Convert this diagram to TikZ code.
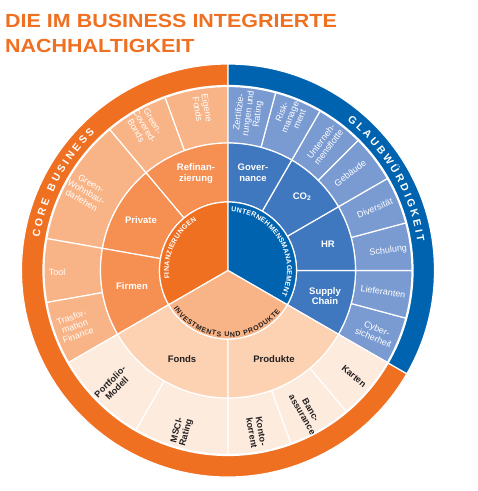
\documentclass[tikz,border=0pt]{standalone}
\usepackage{fontspec}
\setmainfont{Liberation Sans}
\usepackage{tikz}
\usepackage{xcolor}
\usetikzlibrary{decorations.text}

\definecolor{corange}{HTML}{F07022}
\definecolor{cblue}{HTML}{0063AF}
\definecolor{midorange}{HTML}{F58F52}
\definecolor{lightorange}{HTML}{F8B487}
\definecolor{paleorange}{HTML}{FCD2B2}
\definecolor{creamorange}{HTML}{FDEBDE}
\definecolor{midblue}{HTML}{3F78BE}
\definecolor{lightblue}{HTML}{7A9BD2}
\definecolor{darktext}{HTML}{231F20}

% ring piece: colour, from angle, to angle, inner r, outer r
\newcommand{\ringseg}[5]{%
  \filldraw[seg,fill=#1] (#2:#4) arc[start angle=#2,end angle=#3,radius=#4]
    -- (#3:#5) arc[start angle=#3,end angle=#2,radius=#5] -- cycle;}

\begin{document}
\begin{tikzpicture}[x=1pt,y=1pt,
  seg/.style={draw=white,line width=1.2pt},
  lbl/.style={inner sep=0pt,align=center,text=white,font=\fontsize{9}{9.5}\selectfont},
  dlbl/.style={lbl,text=darktext,font=\bfseries\fontsize{9}{9.5}\selectfont},
  mid/.style={inner sep=0pt,align=center,text=white,font=\bfseries\fontsize{9.5}{10.5}\selectfont},
  dmid/.style={mid,text=darktext},
  ttl/.style={anchor=base west,inner sep=0pt,text=corange,xscale=1.13,
    font=\bfseries\fontsize{19}{19}\selectfont}]

  \useasboundingbox (-228,-220.5) rectangle (250,270.5);

  % title
  \node[ttl] (title1) at (-223,243) {DIE IM BUSINESS INTEGRIERTE};
  \node[ttl] (title2) at (-223,218.5) {NACHHALTIGKEIT};

  % outer band
  \ringseg{corange}{90}{330}{185}{206.5}
  \ringseg{cblue}{-30}{90}{185}{206.5}

  % outer pieces
  \foreach \a/\b in {90/110, 110/130, 130/170, 170/190, 190/210} {
    \ringseg{lightorange}{\a}{\b}{127.5}{184}
  }
  \foreach \a in {-30,-15,...,75} {
    \pgfmathsetmacro\b{\a+15}
    \ringseg{lightblue}{\a}{\b}{127.5}{184}
  }
  \foreach \a/\b in {210/240, 240/270, 270/290, 290/310, 310/330} {
    \ringseg{creamorange}{\a}{\b}{127.5}{184}
  }

  % middle ring
  \foreach \a/\b in {90/130, 130/170, 170/210} {
    \ringseg{midorange}{\a}{\b}{68.5}{127.5}
  }
  \foreach \a/\b in {-30/0, 0/30, 30/60, 60/90} {
    \ringseg{midblue}{\a}{\b}{68.5}{127.5}
  }
  \foreach \a/\b in {210/270, 270/330} {
    \ringseg{paleorange}{\a}{\b}{68.5}{127.5}
  }

  % core
  \filldraw[seg,fill=corange] (0,0) -- (90:68.5) arc[start angle=90,end angle=210,radius=68.5] -- cycle;
  \filldraw[seg,fill=cblue] (0,0) -- (-30:68.5) arc[start angle=-30,end angle=90,radius=68.5] -- cycle;
  \filldraw[seg,fill=lightorange] (0,0) -- (210:68.5) arc[start angle=210,end angle=330,radius=68.5] -- cycle;

  % curved headings
  \path[decorate,decoration={text along path,text color=white,text align=fit to path,
    text={|\bfseries\fontsize{10.5}{10.5}\selectfont|CORE BUSINESS}}]
    (170:191.5) arc[start angle=170,end angle=134,radius=191.5];
  \path[decorate,decoration={text along path,text color=white,text align=fit to path,
    text={|\bfseries\fontsize{10.5}{10.5}\selectfont|GLAUBWÜRDIGKEIT}}]
    (51.5:191.5) arc[start angle=51.5,end angle=8.5,radius=191.5];
  \path[decorate,decoration={text along path,text color=white,text align=fit to path,
    text={|\bfseries\fontsize{7}{7}\selectfont|FINANZIERUNGEN}}]
    (188:59) arc[start angle=188,end angle=122,radius=59];
  \path[decorate,decoration={text along path,text color=white,text align=fit to path,
    text={|\bfseries\fontsize{7}{7}\selectfont|UNTERNEHMENSMANAGEMENT}}]
    (87:59) arc[start angle=87,end angle=-25,radius=59];
  \path[decorate,decoration={text along path,text color=darktext,text align=fit to path,
    text={|\bfseries\fontsize{7}{7}\selectfont|INVESTMENTS UND PRODUKTE}}]
    (215:66.5) arc[start angle=215,end angle=322,radius=66.5];

  % middle labels
  \node[mid] (refi) at (-32,97) {Refinan-\\zierung};
  \node[mid] (priv) at (-87,50) {Private};
  \node[mid] (firm) at (-96,-16) {Firmen};
  \node[mid] (gov) at (25,98) {Gover-\\nance};
  \node[mid] (co2) at (74,74) {CO\textsubscript{2}};
  \node[mid] (hr) at (100,26.5) {HR};
  \node[mid] (supply) at (97,-25.5) {Supply\\Chain};
  \node[dmid] (fonds) at (-46,-89) {Fonds};
  \node[dmid] (prod) at (46,-89) {Produkte};

  % outer labels, orange
  \node[lbl,rotate=-80] (eigen) at (99:164) {Eigene\\Fonds};
  \node[lbl,rotate=-60] (bonds) at (120:167) {Green-\\Covered-\\Bonds};
  \node[lbl,rotate=-30] (wohn) at (151:162) {Green-\\Wohnbau-\\darlehen};
  \node[lbl] (tool) at (180.5:171) {Tool};
  \node[lbl,rotate=20] (trafo) at (200:163) {Trasfor-\\mation\\Finance};

  % outer labels, blue
  \node[lbl,rotate=82.5] (zert) at (82.5:158.5) {Zertifizie-\\rungen und\\Rating};
  \node[lbl,rotate=67.5] (risk) at (68:167) {Risk-\\manage-\\ment};
  \node[lbl,rotate=52.5] (flotte) at (52.5:159) {Unterneh-\\mensflotte};
  \node[lbl,rotate=37.5] (geb) at (38.5:156) {Gebäude};
  \node[lbl,rotate=22.5] (div) at (23:159.5) {Diversität};
  \node[lbl,rotate=7.5] (schul) at (7:161.5) {Schulung};
  \node[lbl,rotate=-7.5] (lief) at (-7.8:156.5) {Lieferanten};
  \node[lbl,rotate=-22.5] (cyber) at (-23:160) {Cyber-\\sicherheit};

  % outer labels, bottom
  \node[dlbl,rotate=45] (portf) at (225:162) {Portfolio-\\Modell};
  \node[dlbl,rotate=75] (msci) at (254:167.5) {MSCI-\\Rating};
  \node[dlbl,rotate=-80] (konto) at (280:164) {Konto-\\korrent};
  \node[dlbl,rotate=-60] (banc) at (299:162) {Banc-\\assurance};
  \node[dlbl,rotate=-40] (karten) at (320:164.5) {Karten};

\end{tikzpicture}
\end{document}
